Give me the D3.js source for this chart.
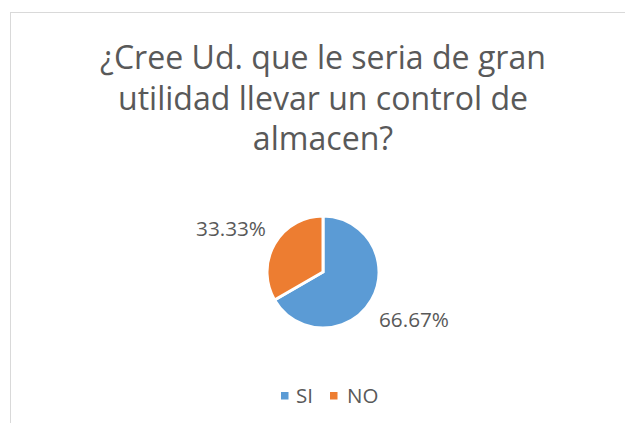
<!DOCTYPE html>
<html lang="es">
<head>
<meta charset="utf-8">
<title>Control de almacen</title>
<script src="https://d3js.org/d3.v7.min.js"></script>
<style>
    body { margin: 0; background: white; }
    svg { font-family: "Open Sans", "Noto Sans", sans-serif; }
    .frame { fill: white; stroke: #d9d9d9; stroke-width: 1; }
    .title { fill: #595959; font-size: 28px; text-anchor: middle; }
    .label { fill: #595959; font-size: 20px; }
    .legend text { fill: #595959; font-size: 20.5px; }
    .slice { stroke: white; stroke-width: 3; }
</style>
</head>
<body>
<script>
var w = 625, h = 423;

var categories = ["SI", "NO"];
var values = [66.67, 33.33];
var colors = ["#5b9bd5", "#ed7d31"];
var titleLines = ["¿Cree Ud. que le seria de gran", "utilidad llevar un control de", "almacen?"];

var svg = d3.select("body").append("svg")
    .attr("width", w)
    .attr("height", h);

// chart area border (only top and left visible)
svg.append("rect").attr("class", "frame")
    .attr("x", 10.5).attr("y", 12.5)
    .attr("width", w + 20).attr("height", h + 20);

var titles = svg.selectAll("text.title")
    .data(titleLines).enter()
    .append("text")
    .attr("class", "title")
    .attr("x", 323)
    .attr("y", (d, i) => 69 + i * 40.5)
    .text(d => d);

// fallback font is wider than calibri, fit the first line to the reference width
var len = titles.node().getComputedTextLength();
titles.style("font-size", (28 * 446 / len).toFixed(2) + "px");

var cx = 323, cy = 272, r = 56;
var pie = d3.pie().sort(null).value(d => d);
var arc = d3.arc().innerRadius(0).outerRadius(r);
var arcs = pie(values);

var g = svg.append("g").attr("transform", `translate(${cx},${cy})`);
g.selectAll("path")
    .data(arcs).enter()
    .append("path")
    .attr("class", "slice")
    .attr("d", arc)
    .attr("fill", (d, i) => colors[i]);

// data labels, placed outside like excel's best fit
var labelPos = [
    { x: 379, y: 327, anchor: "start" },
    { x: 266, y: 236, anchor: "end" }
];
var labels = svg.selectAll("text.label")
    .data(arcs).enter()
    .append("text")
    .attr("class", "label")
    .attr("x", (d, i) => labelPos[i].x)
    .attr("y", (d, i) => labelPos[i].y)
    .attr("text-anchor", (d, i) => labelPos[i].anchor)
    .text(d => d.data.toFixed(2) + "%");
var lw = labels.node().getComputedTextLength();
labels.style("font-size", (20 * 70 / lw).toFixed(2) + "px");

// legend
var legend = svg.append("g").attr("class", "legend");
var legX = [281, 330];
var item = legend.selectAll("g")
    .data(categories).enter()
    .append("g")
    .attr("transform", (d, i) => `translate(${legX[i]},392)`);
item.append("rect")
    .attr("width", 7.5).attr("height", 7.5)
    .attr("fill", (d, i) => colors[i]);
item.append("text")
    .attr("x", (d, i) => i ? 17 : 15).attr("y", 10.5)
    .text(d => d);
</script>
</body>
</html>
